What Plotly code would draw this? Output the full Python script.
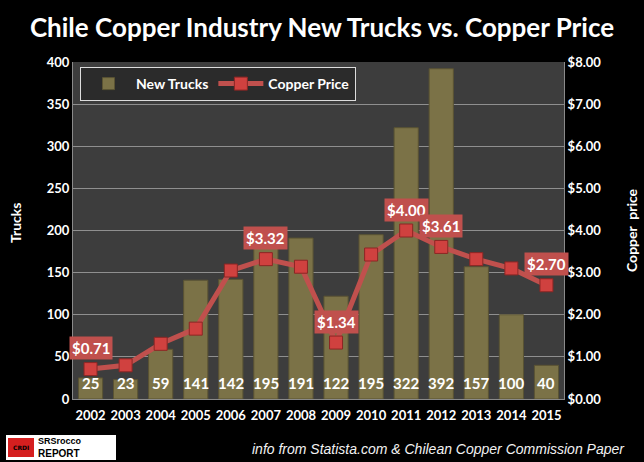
import plotly.graph_objects as go

years = [2002, 2003, 2004, 2005, 2006, 2007, 2008, 2009,
         2010, 2011, 2012, 2013, 2014, 2015]
trucks = [25, 23, 59, 141, 142, 195, 191, 122, 195, 322, 392, 157, 100, 40]
copper = [0.71, 0.80, 1.31, 1.67, 3.05, 3.32, 3.14, 1.34, 3.43, 4.00, 3.61, 3.32, 3.10, 2.70]
labelled_years = [2002, 2007, 2009, 2011, 2012, 2015]

FONT = "Lato"
WHITE = "#ffffff"
RED = "#c0504d"
OLIVE = "#7b7247"

# plot-area pixel geometry
L, R, T, B = 73, 564, 62, 399
W, H = 644, 462


def px(xv):
    return (xv - L) / (R - L)


def py(yv):
    return (B - yv) / (B - T)


fig = go.Figure()
fig.add_trace(go.Bar(
    x=years, y=trucks, name="New Trucks",
    marker=dict(color=OLIVE, line=dict(color="#5a5333", width=1)),
    yaxis="y",
))
fig.add_trace(go.Scatter(
    x=years, y=copper, name="Copper Price", yaxis="y2",
    mode="lines+markers",
    line=dict(color=RED, width=5),
    marker=dict(symbol="square", size=13, color="#d0413f",
                line=dict(color="#8c2624", width=1)),
))

annotations = []
for yr, t in zip(years, trucks):
    annotations.append(dict(
        x=yr, y=0, xref="x", yref="y", text=f"<b>{t}</b>", showarrow=False,
        yanchor="bottom", yshift=5,
        font=dict(family=FONT, size=15, color=WHITE),
    ))
for yr, c in zip(years, copper):
    if yr in labelled_years:
        annotations.append(dict(
            x=yr, y=c, xref="x", yref="y2", text=f"<b>${c:.2f}</b>",
            showarrow=False, yanchor="middle", yshift=21,
            bgcolor=RED, borderpad=2,
            font=dict(family=FONT, size=15, color=WHITE),
        ))

# axis titles
annotations.append(dict(x=px(16), y=py(223), xref="paper", yref="paper", text="<b>Trucks</b>",
                        showarrow=False, textangle=-90, xanchor="center", yanchor="middle",
                        font=dict(family=FONT, size=14, color=WHITE)))
annotations.append(dict(x=px(631), y=py(230), xref="paper", yref="paper",
                        text="<b>Copper  price</b>", showarrow=False, textangle=-90,
                        xanchor="center", yanchor="middle",
                        font=dict(family=FONT, size=14, color=WHITE)))
# source note
annotations.append(dict(x=px(627), y=py(449), xref="paper", yref="paper", showarrow=False,
                        text="<i>info from Statista.com &amp; Chilean Copper Commission Paper</i>",
                        font=dict(family="Liberation Sans", size=14, color="#f2f2f2"),
                        xanchor="right", yanchor="middle"))
# logo texts
annotations.append(dict(x=px(21), y=py(447), xref="paper", yref="paper", showarrow=False,
                        xanchor="center", yanchor="middle", borderpad=0,
                        text="<b>CRDI</b>", font=dict(family="DejaVu Sans", size=6, color="#000000")))
annotations.append(dict(x=px(37), y=py(435), xref="paper", yref="paper", showarrow=False,
                        xanchor="left", yanchor="top", text="<b>SRSrocco</b>", borderpad=0,
                        font=dict(family="Liberation Sans", size=9, color="#000000")))
annotations.append(dict(x=px(37), y=py(460), xref="paper", yref="paper", showarrow=False,
                        xanchor="left", yanchor="bottom", text="<b>REPORT</b>", borderpad=0,
                        font=dict(family="Liberation Sans", size=10, color="#000000")))

fig.update_layout(
    width=W, height=H,
    margin=dict(l=L, r=W - R, t=T, b=H - B, autoexpand=False),
    paper_bgcolor="#000000", plot_bgcolor="#3d3d3d",
    title=dict(text="<b>Chile Copper Industry New Trucks vs. Copper Price</b>",
               x=0.5, xanchor="center", y=1 - 28 / H, yanchor="middle",
               font=dict(family=FONT, size=26, color=WHITE)),
    bargap=0.31,
    showlegend=True,
    legend=dict(orientation="h", x=px(80), y=py(67), xanchor="left", yanchor="top",
                bgcolor="#2b2b2b", bordercolor="#dddddd", borderwidth=1,
                itemwidth=45,
                font=dict(family=FONT, size=14, color=WHITE, weight=700)),
    xaxis=dict(range=[2001.5, 2015.5], dtick=1, showgrid=False, showline=True,
               linecolor="#8a8a8a", linewidth=1, zeroline=False,
               tickfont=dict(family=FONT, size=13, color=WHITE, weight=700),
               ticks="", ticklabelstandoff=4),
    yaxis=dict(range=[0, 400], dtick=50, showgrid=True, gridcolor="#8f8f8f",
               gridwidth=1, showline=True, linecolor="#8a8a8a", zeroline=False,
               tickfont=dict(family=FONT, size=13, color=WHITE, weight=700)),
    yaxis2=dict(range=[0, 8], dtick=1, overlaying="y", side="right",
                showgrid=False, showline=True, linecolor="#8a8a8a", zeroline=False,
                tickformat="$.2f", ticks="inside", ticklen=4, tickcolor="#8a8a8a",
                tickfont=dict(family=FONT, size=13, color=WHITE, weight=700)),
    annotations=annotations,
)

# logo boxes
fig.add_shape(type="rect", xref="paper", yref="paper", x0=px(6), x1=px(116),
              y0=py(460), y1=py(435), fillcolor="#ffffff", line=dict(width=0), layer="below")
fig.add_shape(type="rect", xref="paper", yref="paper", x0=px(8), x1=px(34),
              y0=py(457), y1=py(438), fillcolor="#d51f1f", line=dict(width=0), layer="below")

fig.write_html("out.html", config={"displayModeBar": False},
               post_script="document.body.style.margin='0';document.body.style.background='#000';")
